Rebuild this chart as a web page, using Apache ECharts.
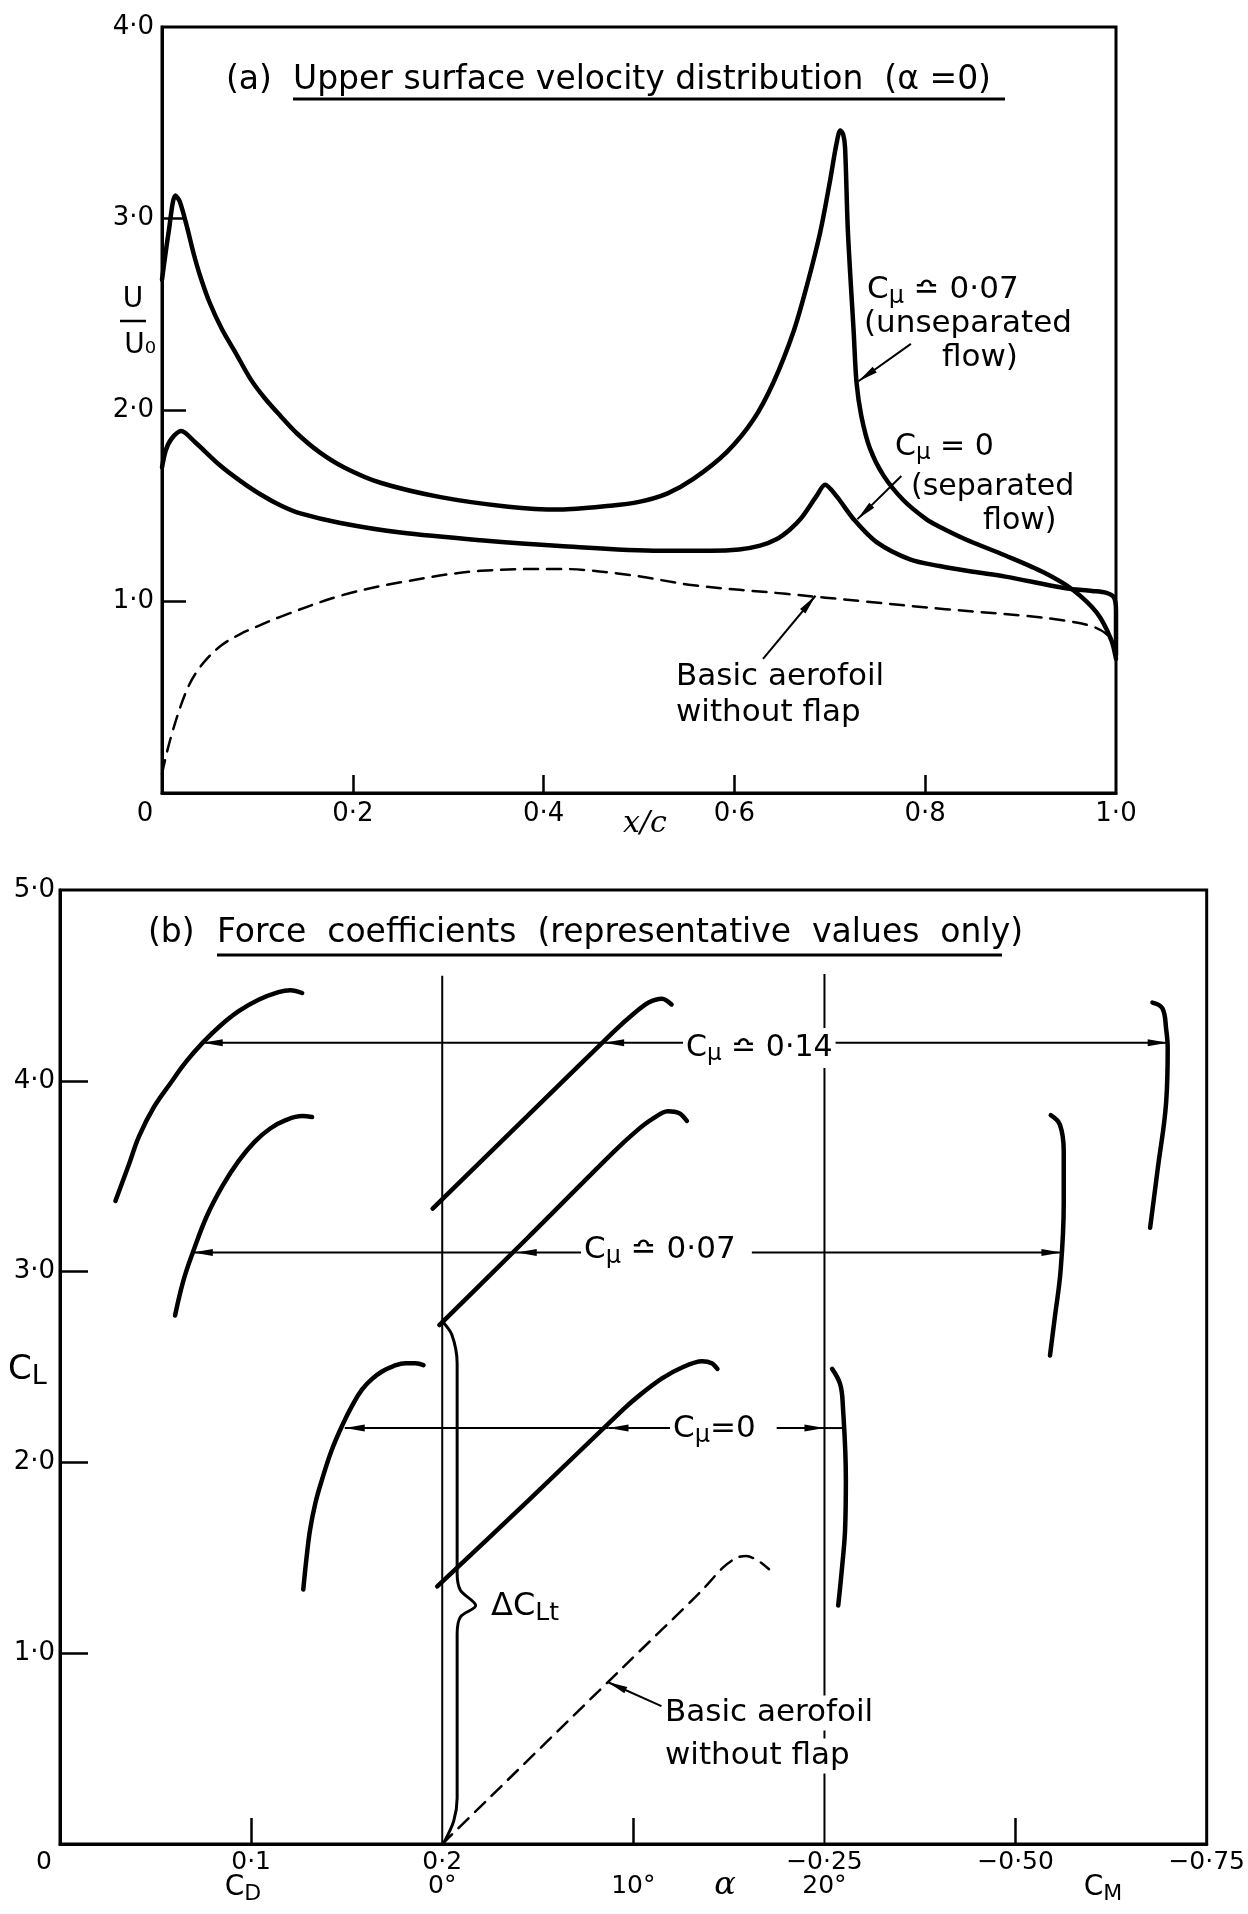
<!DOCTYPE html>
<html>
<head>
<meta charset="utf-8">
<script src="https://cdn.jsdelivr.net/npm/echarts@6/dist/echarts.min.js"></script>
<style>
  html, body { margin: 0; padding: 0; background: #fff; }
  #main { width: 1248px; height: 1914px; }
</style>
</head>
<body>
<div id="main"></div>
<script>
var FONT = 'DejaVu Sans';

// ---- (a) upper surface velocity distribution: [x/c, U/U0]
var xTicksA = [0, 0.2, 0.4, 0.6, 0.8, 1.0];
var xLabelsA = ['0', '0·2', '0·4', '0·6', '0·8', '1·0'];
var yTicksA = [1, 2, 3, 4];
var yLabelsA = ['1·0', '2·0', '3·0', '4·0'];

// C_mu ~ 0.07, unseparated flow
var unsepFlow = [[0, 2.68], [0.007, 2.93], [0.014, 3.12], [0.0185, 3.09], [0.026, 2.96], [0.033, 2.82],
  [0.040, 2.70], [0.050, 2.56], [0.063, 2.42], [0.077, 2.30], [0.093, 2.16], [0.108, 2.06], [0.124, 1.97],
  [0.141, 1.88], [0.165, 1.78], [0.191, 1.70], [0.229, 1.62], [0.292, 1.545], [0.363, 1.495], [0.417, 1.48],
  [0.470, 1.50], [0.500, 1.52], [0.530, 1.565], [0.557, 1.64], [0.592, 1.78], [0.620, 1.95], [0.641, 2.145],
  [0.662, 2.41], [0.676, 2.65], [0.690, 2.93], [0.700, 3.19], [0.707, 3.39], [0.711, 3.46], [0.714, 3.44],
  [0.716, 3.37], [0.719, 2.93], [0.725, 2.41], [0.728, 2.145], [0.733, 1.97], [0.742, 1.80], [0.756, 1.66],
  [0.777, 1.53], [0.801, 1.43], [0.815, 1.39], [0.842, 1.325], [0.884, 1.24], [0.925, 1.15], [0.955, 1.06],
  [0.980, 0.94], [0.995, 0.80], [1.0, 0.70]];
// C_mu = 0, separated flow
var sepFlow = [[0, 1.70], [0.004, 1.79], [0.010, 1.85], [0.020, 1.89], [0.035, 1.83], [0.061, 1.71],
  [0.082, 1.63], [0.103, 1.56], [0.125, 1.50], [0.145, 1.46], [0.187, 1.41], [0.25, 1.36], [0.334, 1.32],
  [0.417, 1.29], [0.522, 1.265], [0.575, 1.265], [0.605, 1.272], [0.627, 1.292], [0.644, 1.325], [0.658, 1.375],
  [0.670, 1.435], [0.686, 1.55], [0.695, 1.61], [0.707, 1.55], [0.725, 1.43], [0.749, 1.31], [0.784, 1.22],
  [0.815, 1.185], [0.850, 1.155], [0.884, 1.13], [0.946, 1.07], [0.975, 1.055], [0.990, 1.045], [0.998, 1.02],
  [1.0, 0.95], [1.0, 0.72]];
// basic aerofoil without flap
var basicA = [[0, 0.10], [0.005, 0.21], [0.011, 0.32], [0.02, 0.46], [0.028, 0.56], [0.036, 0.63],
  [0.047, 0.70], [0.062, 0.77], [0.082, 0.83], [0.1, 0.87], [0.124, 0.92], [0.187, 1.03], [0.25, 1.10],
  [0.334, 1.16], [0.417, 1.17], [0.488, 1.14], [0.557, 1.085], [0.654, 1.04], [0.737, 1.0], [0.821, 0.96],
  [0.905, 0.925], [0.946, 0.90], [0.975, 0.87], [0.99, 0.83], [1.0, 0.76]];
// leader lines [x1, y1, x2, y2, arrow]
var leadersA = [[0.785, 2.345, 0.730, 2.15, 1], [0.775, 1.655, 0.729, 1.43, 1], [0.630, 0.70, 0.685, 1.03, 1]];

// ---- (b) force coefficients
var cdTicks = [0, 0.1, 0.2];
var cdLabels = ['0', '0·1', '0·2'];
var alphaTicks = [0, 10, 20];
var alphaLabels = ['0°', '10°', '20°'];
var cmTicks = [-0.25, -0.5, -0.75];
var cmLabels = ['−0·25', '−0·50', '−0·75'];
var yTicksB = [1, 2, 3, 4, 5];
var yLabelsB = ['1·0', '2·0', '3·0', '4·0', '5·0'];

// C_L vs C_D
var cdCmu014 = [[0.029, 3.37], [0.036, 3.56], [0.0414, 3.71], [0.049, 3.86], [0.058, 3.99], [0.066, 4.10],
  [0.0747, 4.20], [0.084, 4.29], [0.0935, 4.365], [0.1039, 4.425], [0.1143, 4.465], [0.1205, 4.475], [0.1267, 4.46]];
var cdCmu007 = [[0.0602, 2.77], [0.0645, 2.95], [0.0695, 3.10], [0.0768, 3.29], [0.0851, 3.45], [0.0935, 3.58],
  [0.1018, 3.68], [0.110, 3.75], [0.1184, 3.795], [0.1267, 3.815], [0.1319, 3.81]];
var cdCmu0 = [[0.1273, 1.334], [0.1290, 1.50], [0.1309, 1.65], [0.1337, 1.79], [0.1371, 1.91], [0.1420, 2.06],
  [0.1475, 2.19], [0.1530, 2.30], [0.1579, 2.38], [0.1630, 2.435], [0.1683, 2.475], [0.1745, 2.505],
  [0.1808, 2.52], [0.1860, 2.52], [0.1902, 2.51]];
// C_L vs alpha (deg)
var alCmu014 = [[-0.5, 3.33], [4.5, 3.82], [9.0, 4.26], [10.0, 4.35], [10.8, 4.41], [11.5, 4.43], [12.0, 4.40]];
var alCmu007 = [[-0.15, 2.72], [4.5, 3.18], [9.0, 3.63], [10.2, 3.74], [11.0, 3.80], [11.8, 3.84], [12.4, 3.83], [12.8, 3.79]];
var alCmu0 = [[-0.26, 1.35], [4.5, 1.80], [9.5, 2.28], [10.3, 2.35], [11.5, 2.44], [12.6, 2.50], [13.6, 2.53], [14.1, 2.52], [14.4, 2.49]];
var alBasic = [[0, 0], [9.5, 0.93], [13.5, 1.32], [14.7, 1.45], [15.4, 1.50], [15.9, 1.51], [16.6, 1.48], [17.1, 1.44]];
var brace = [[0, 2.74], [0.5, 2.67], [0.78, 2.52], [0.78, 1.42], [0.95, 1.33], [1.75, 1.25], [0.95, 1.19],
  [0.78, 1.10], [0.78, 0.24], [0.6, 0.12], [0.1, 0.01]];
// C_L vs C_M
var cmCmu014 = [[-0.679, 4.41], [-0.692, 4.38], [-0.697, 4.27], [-0.699, 4.17], [-0.697, 3.89], [-0.686, 3.54], [-0.676, 3.23]];
var cmCmu007 = [[-0.546, 3.82], [-0.558, 3.77], [-0.563, 3.63], [-0.563, 3.36], [-0.559, 3.01], [-0.551, 2.75], [-0.545, 2.56]];
var cmCmu0 = [[-0.260, 2.49], [-0.2705, 2.41], [-0.274, 2.30], [-0.278, 1.91], [-0.277, 1.65], [-0.2735, 1.47], [-0.268, 1.25]];
// arrows and rules, in C_D-axis units across the whole width: [x1, y1, x2, y2, arrow]
var arrowsB = [
  [0.327, 4.20, 0.2847, 4.20, 1], [0.2847, 4.20, 0.0747, 4.20, 1], [0.403, 4.20, 0.5796, 4.20, 1],
  [0.274, 3.10, 0.239, 3.10, 1], [0.239, 3.10, 0.0695, 3.10, 1], [0.362, 3.10, 0.524, 3.10, 1],
  [0.320, 2.18, 0.287, 2.18, 1], [0.287, 2.18, 0.149, 2.18, 1], [0.375, 2.18, 0.400, 2.18, 1], [0.400, 2.18, 0.411, 2.18, 0],
  [0.2, 0, 0.2, 4.55, 0], [0.4, 0, 0.4, 4.56, 0],
  [0.3147, 0.723, 0.2865, 0.849, 1]
];

function pick(ticks, labels) {
  return function (v) {
    var best = 0;
    for (var i = 1; i < ticks.length; i++) {
      if (Math.abs(ticks[i] - v) < Math.abs(ticks[best] - v)) best = i;
    }
    // the corner "0" sits left of the axis
    return best === 0 && labels[0] === '0' ? '{z|0}' : labels[best];
  };
}

function curve(data, xi, yi, width, dashed, smooth) {
  return {
    type: 'line', xAxisIndex: xi, yAxisIndex: yi, data: data,
    symbol: 'none', smooth: smooth, silent: true, z: 3,
    lineStyle: { color: '#000', width: width, type: dashed ? [14, 9] : 'solid', cap: 'round', join: 'round' }
  };
}

function arrows(xi, yi, segs) {
  return {
    type: 'custom', xAxisIndex: xi, yAxisIndex: yi, data: segs, silent: true, z: 4,
    encode: { x: [0, 2], y: [1, 3] },
    renderItem: function (params, api) {
      var p1 = api.coord([api.value(0), api.value(1)]);
      var p2 = api.coord([api.value(2), api.value(3)]);
      var kids = [{
        type: 'line', shape: { x1: p1[0], y1: p1[1], x2: p2[0], y2: p2[1] },
        style: { stroke: '#000', lineWidth: 2 }
      }];
      if (api.value(4)) {
        var dx = p2[0] - p1[0], dy = p2[1] - p1[1];
        var len = Math.sqrt(dx * dx + dy * dy) || 1;
        var ux = dx / len, uy = dy / len, L = 20, W = 3.5;
        kids.push({
          type: 'polygon',
          shape: { points: [[p2[0], p2[1]],
            [p2[0] - ux * L - uy * W, p2[1] - uy * L + ux * W],
            [p2[0] - ux * L + uy * W, p2[1] - uy * L - ux * W]] },
          style: { fill: '#000' }
        });
      }
      return { type: 'group', children: kids };
    }
  };
}

function label(x, y, text, size, opts) {
  opts = opts || {};
  var sub = opts.sub || Math.round(size * 0.78);
  return {
    type: 'text', x: x, y: y, z: 100,
    style: {
      text: text, fill: '#000', fontFamily: opts.family || FONT, fontSize: size,
      fontStyle: opts.italic ? 'italic' : 'normal',
      align: opts.align || 'left', verticalAlign: 'middle',
      backgroundColor: opts.bg, padding: opts.bg ? [2, 3] : 0,
      rich: { s: { fontSize: sub, fontFamily: FONT, fill: '#000', padding: [Math.round(size * 0.42), 0, 0, 0] } }
    }
  };
}

function rule(x1, y1, x2, y2, w) {
  return { type: 'line', z: 100, shape: { x1: x1, y1: y1, x2: x2, y2: y2 }, style: { stroke: '#000', lineWidth: w || 3 } };
}

function axisText(size, shift) {
  return { color: '#000', fontFamily: FONT, fontSize: size, rich: { z: { fontSize: size, fontFamily: FONT, color: '#000', padding: [0, shift, 0, 0] } } };
}
var blackLine = { color: '#000', width: 3 };

var chart = echarts.init(document.getElementById('main'));
var option = {
  animation: false,
  backgroundColor: '#fff',
  grid: [
    { left: 162, top: 27, width: 954, height: 766, show: true, borderColor: '#000', borderWidth: 3 },
    { left: 60, top: 890, width: 1148, height: 954, show: true, borderColor: '#000', borderWidth: 3 }
  ],
  xAxis: [
    {
      gridIndex: 0, type: 'value', min: 0, max: 1, position: 'bottom',
      axisLine: { onZero: false, lineStyle: blackLine },
      axisTick: { inside: true, length: 18, customValues: [0.2, 0.4, 0.6, 0.8], lineStyle: { color: '#000', width: 2.5 } },
      axisLabel: Object.assign({ customValues: xTicksA, formatter: pick(xTicksA, xLabelsA), margin: 8 }, axisText(26, 34)),
      splitLine: { show: false }
    },
    {
      gridIndex: 1, type: 'value', min: 0, max: 0.6, position: 'bottom',
      axisLine: { onZero: false, lineStyle: blackLine },
      axisTick: { inside: true, length: 26, customValues: [0.1], lineStyle: { color: '#000', width: 2.5 } },
      axisLabel: Object.assign({ customValues: cdTicks, formatter: pick(cdTicks, cdLabels), margin: 6 }, axisText(25, 32)),
      splitLine: { show: false }
    },
    {
      gridIndex: 1, type: 'value', min: -20, max: 40, position: 'bottom',
      axisLine: { show: false, onZero: false },
      axisTick: { show: true, inside: true, length: 26, customValues: [10], lineStyle: { color: '#000', width: 2.5 } },
      axisLabel: Object.assign({ customValues: alphaTicks, formatter: pick(alphaTicks, alphaLabels), margin: 30 }, axisText(25, 0)),
      splitLine: { show: false }
    },
    {
      gridIndex: 1, type: 'value', min: -0.75, max: 0.75, inverse: true, position: 'bottom',
      axisLine: { show: false, onZero: false },
      axisTick: { show: true, inside: true, length: 26, customValues: [-0.5], lineStyle: { color: '#000', width: 2.5 } },
      axisLabel: Object.assign({ customValues: cmTicks, formatter: pick(cmTicks, cmLabels), margin: 6 }, axisText(25, 0)),
      splitLine: { show: false }
    }
  ],
  yAxis: [
    {
      gridIndex: 0, type: 'value', min: 0, max: 4,
      axisLine: { onZero: false, lineStyle: blackLine },
      axisTick: { inside: true, length: 24, customValues: [1, 2, 3], lineStyle: { color: '#000', width: 2.5 } },
      axisLabel: Object.assign({ customValues: yTicksA, formatter: pick(yTicksA, yLabelsA), margin: 8 }, axisText(26, 0)),
      splitLine: { show: false }
    },
    {
      gridIndex: 1, type: 'value', min: 0, max: 5,
      axisLine: { onZero: false, lineStyle: blackLine },
      axisTick: { inside: true, length: 28, customValues: [1, 2, 3, 4], lineStyle: { color: '#000', width: 2.5 } },
      axisLabel: Object.assign({ customValues: yTicksB, formatter: pick(yTicksB, yLabelsB), margin: 5 }, axisText(26, 0)),
      splitLine: { show: false }
    }
  ],
  series: [
    curve(unsepFlow, 0, 0, 4.5, false, 0.3),
    curve(sepFlow, 0, 0, 4.5, false, 0.3),
    curve(basicA, 0, 0, 2.5, true, 0.35),
    arrows(0, 0, leadersA),

    curve(cdCmu014, 1, 1, 4.5, false, 0.4),
    curve(cdCmu007, 1, 1, 4.5, false, 0.4),
    curve(cdCmu0, 1, 1, 4.5, false, 0.4),
    curve(alCmu014, 2, 1, 4.5, false, 0.3),
    curve(alCmu007, 2, 1, 4.5, false, 0.3),
    curve(alCmu0, 2, 1, 4.5, false, 0.3),
    curve(alBasic, 2, 1, 2.5, true, 0.3),
    curve(brace, 2, 1, 3, false, 0.3),
    curve(cmCmu014, 3, 1, 4.5, false, 0.4),
    curve(cmCmu007, 3, 1, 4.5, false, 0.4),
    curve(cmCmu0, 3, 1, 4.5, false, 0.4),
    arrows(1, 1, arrowsB)
  ],
  graphic: [
    label(226, 80, '(a)', 33),
    label(293, 80, 'Upper surface velocity distribution  (α =0)', 33),
    rule(293, 99, 1005, 99, 3),
    label(867, 290, 'C{s|μ} ≏ 0·07', 31),
    label(864, 324, '(unseparated', 31),
    label(942, 358, 'flow)', 31),
    label(895, 447, 'C{s|μ} = 0', 30),
    label(911, 487, '(separated', 30),
    label(983, 521, 'flow)', 30),
    label(676, 677, 'Basic aerofoil', 31),
    label(676, 713, 'without flap', 31),
    label(623, 824, 'x/c', 30, { italic: true, family: 'DejaVu Serif' }),
    label(133, 300, 'U', 28, { align: 'center' }),
    rule(120, 321, 146, 321, 2.5),
    label(140, 346, 'U₀', 28, { align: 'center' }),

    label(148, 933, '(b)', 33),
    label(217, 933, 'Force  coefficients  (representative  values  only)', 33),
    rule(217, 955, 1002, 955, 3),
    label(683, 1048, 'C{s|μ} ≏ 0·14', 30, { bg: '#fff' }),
    label(581, 1250, 'C{s|μ} ≏ 0·07', 31, { bg: '#fff' }),
    label(670, 1429, 'C{s|μ}=0', 31, { bg: '#fff' }),
    label(491, 1607, 'ΔC{s|Lt}', 32, { sub: 25 }),
    label(662, 1713, 'Basic aerofoil', 31, { bg: '#fff' }),
    label(662, 1756, 'without flap', 31, { bg: '#fff' }),
    label(8, 1370, 'C{s|L}', 34),
    label(243, 1888, 'C{s|D}', 28, { align: 'center' }),
    label(725, 1886, 'α', 32, { align: 'center', italic: true, family: 'DejaVu Serif' }),
    label(1103, 1888, 'C{s|M}', 28, { align: 'center' })
  ]
};
chart.setOption(option);
</script>
</body>
</html>
